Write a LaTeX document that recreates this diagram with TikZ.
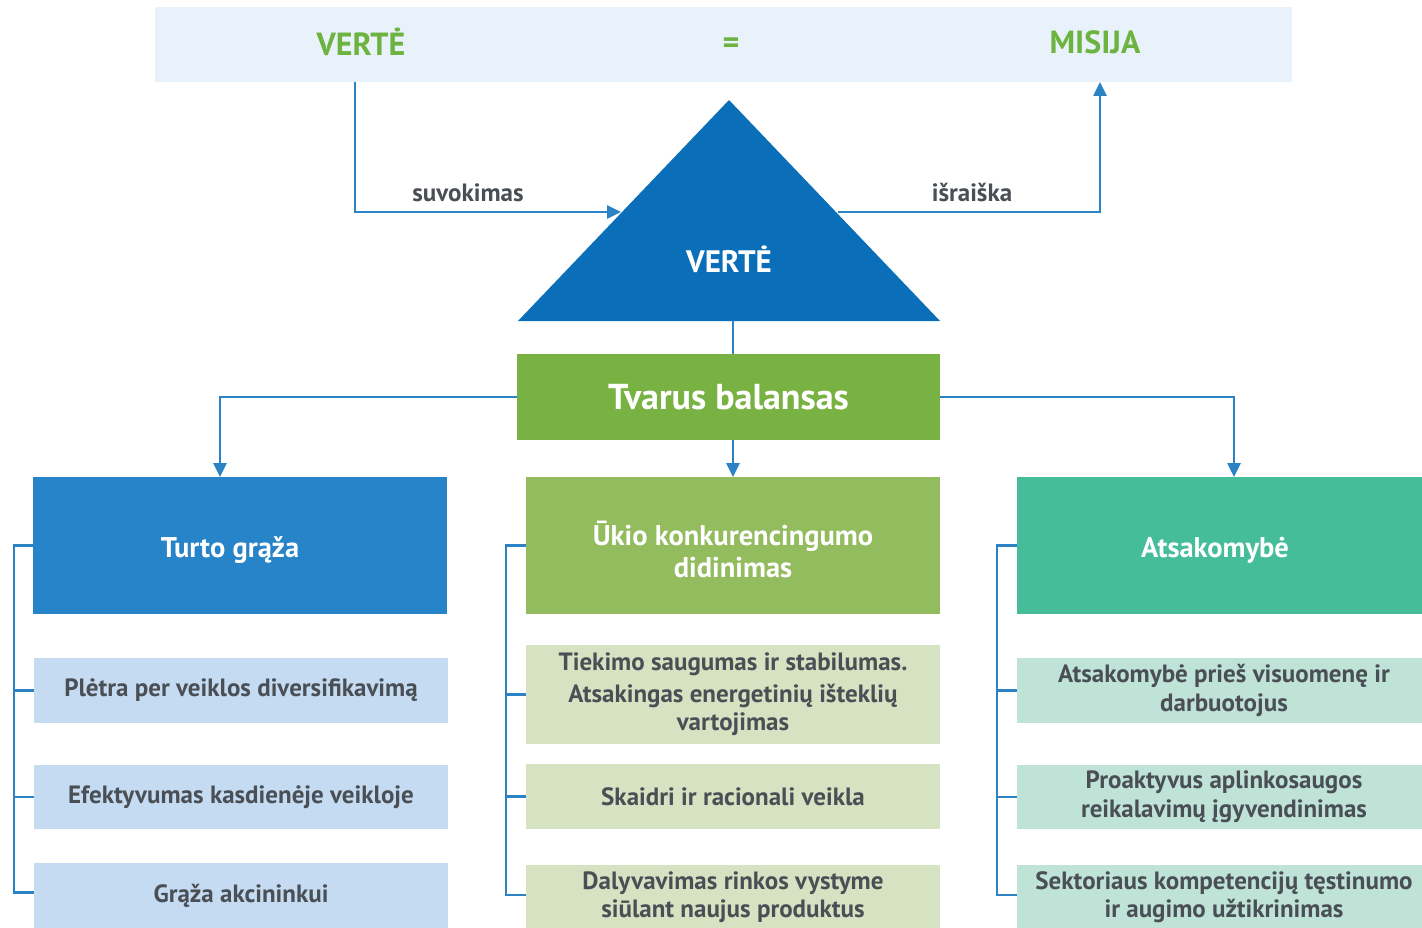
\documentclass[tikz,border=0pt]{standalone}
\usepackage{fontspec}
\setmainfont{PT Sans}
\usetikzlibrary{arrows.meta}
\definecolor{barbg}{HTML}{E9F1FA}
\definecolor{topgreen}{HTML}{6CB33F}
\definecolor{lineblue}{HTML}{2B83C6}
\definecolor{tricol}{HTML}{0A6FB8}
\definecolor{tbgreen}{HTML}{78B243}
\definecolor{bblue}{HTML}{2784C8}
\definecolor{bgreen}{HTML}{93BC5F}
\definecolor{bteal}{HTML}{45BD98}
\definecolor{sblue}{HTML}{C4DBF1}
\definecolor{sgreen}{HTML}{D5E3C2}
\definecolor{steal}{HTML}{BFE3D6}
\definecolor{txtgray}{HTML}{4A4F55}
\begin{document}
\begin{tikzpicture}[x=1pt,y=-1pt,
  plain/.style={inner sep=0pt,outer sep=0pt,draw=none},
  topword/.style={plain,text=topgreen,font=\bfseries\fontsize{32}{34}\selectfont},
  lbl/.style={plain,text=txtgray,font=\bfseries\fontsize{25}{28}\selectfont},
  conn/.style={draw=lineblue,line width=2.6pt},
  arr/.style={conn,-{Triangle[length=14pt,width=13pt]}},
  bigbox/.style={plain,minimum width=414pt,minimum height=137pt},
  bigtxt/.style={plain,text=white,align=center,font=\bfseries\fontsize{28.5}{32}\selectfont},
  subbox/.style={plain,align=center,text=txtgray,font=\bfseries\fontsize{25}{28.5}\selectfont},
]
\useasboundingbox (0,0) rectangle (1422,928);
\fill[white] (0,0) rectangle (1422,928);

% top bar
\node[plain,fill=barbg,minimum width=1137pt,minimum height=75pt] (top) at (723.5,44.5) {};
\node[topword] (vt) at (361,42) {VERTĖ};
\node[topword,anchor=base] (eq) at (731,54) {=};
\node[topword] (mis) at (1095,42) {MISIJA};

% triangle
\fill[tricol] (518,321) -- (729,100) -- (940,321) -- cycle;
\node[plain,text=white,font=\bfseries\fontsize{31}{34}\selectfont] (tri) at (729,259) {VERTĖ};
\coordinate (tl) at (621,212);
\coordinate (tr) at (838,212);
\coordinate (tbase) at (733,321);
\coordinate (cl) at (355,82);
\coordinate (cr) at (1100,82);

\draw[arr] (top.south -| cl) |- (tl);
\draw[arr] (tr) -| (cr);
\node[lbl,anchor=base] (suv) at (468,202) {suvokimas};
\node[lbl,anchor=base] (isr) at (972,202) {išraiška};

% Tvarus balansas
\node[plain,fill=tbgreen,minimum width=423pt,minimum height=86pt,text=white,font=\bfseries\fontsize{36}{40}\selectfont] (tb) at (728.5,397) {Tvarus balansas};

% row boxes
\node[bigbox,fill=bblue] (b1) at (240,545.5) {};
\node[bigbox,fill=bgreen] (b2) at (733,545.5) {};
\node[bigbox,fill=bteal,minimum width=414pt] (b3) at (1224,545.5) {};
\node[bigtxt] (t1) at (230,550) {Turto grąža};
\node[bigtxt] (t2) at (733,549) {Ūkio konkurencingumo\\didinimas};
\node[bigtxt] (t3) at (1215,550) {Atsakomybė};

\coordinate (a1) at (220,477);
\coordinate (a3) at (1234,477);
\draw[conn] (tbase) -- (tb.north -| b2.north);
\draw[arr] (tb.south -| b2.north) -- (b2.north);
\draw[arr] (tb.west) -| (a1);
\draw[arr] (tb.east) -| (a3);

% sub boxes left
\node[subbox,fill=sblue,minimum width=414pt,minimum height=65pt] (s11) at (241,690.5) {Plėtra per veiklos diversifikavimą};
\node[subbox,fill=sblue,minimum width=414pt,minimum height=64pt] (s12) at (241,797) {Efektyvumas kasdienėje veikloje};
\node[subbox,fill=sblue,minimum width=414pt,minimum height=65pt] (s13) at (241,895.5) {Grąža akcininkui};

% sub boxes middle
\node[subbox,fill=sgreen,minimum width=414pt,minimum height=99pt] (s21) at (733,694.5) {Tiekimo saugumas ir stabilumas.\\[3pt]Atsakingas energetinių išteklių\\vartojimas};
\node[subbox,fill=sgreen,minimum width=414pt,minimum height=65pt] (s22) at (733,796.5) {Skaidri ir racionali veikla};
\node[subbox,fill=sgreen,minimum width=414pt,minimum height=65pt] (s23) at (733,897) {Dalyvavimas rinkos vystyme\\siūlant naujus produktus};

% sub boxes right
\node[subbox,fill=steal,minimum width=414pt,minimum height=65pt] (s31) at (1224,690.5) {Atsakomybė prieš visuomenę ir\\darbuotojus};
\node[subbox,fill=steal,minimum width=414pt,minimum height=64pt] (s32) at (1224,797) {Proaktyvus aplinkosaugos\\reikalavimų įgyvendinimas};
\node[subbox,fill=steal,minimum width=414pt,minimum height=65pt] (s33) at (1224,897) {Sektoriaus kompetencijų tęstinumo\\ir augimo užtikrinimas};

% brackets
\draw[conn] (b1.west) -- ++(-19,0) |- ([yshift=3pt]s13.west);
\draw[conn] (s11.west) -- ++(-20,0);
\draw[conn] (s12.west) -- ++(-20,0);
\draw[conn] (b2.west) -- ++(-20,0) |- ([yshift=2pt]s23.west);
\draw[conn] (s21.west) -- ++(-20,0);
\draw[conn] (s22.west) -- ++(-20,0);
\draw[conn] (b3.west) -- ++(-20,0) |- ([yshift=2pt]s33.west);
\draw[conn] (s31.west) -- ++(-20,0);
\draw[conn] (s32.west) -- ++(-20,0);
\end{tikzpicture}
\end{document}
